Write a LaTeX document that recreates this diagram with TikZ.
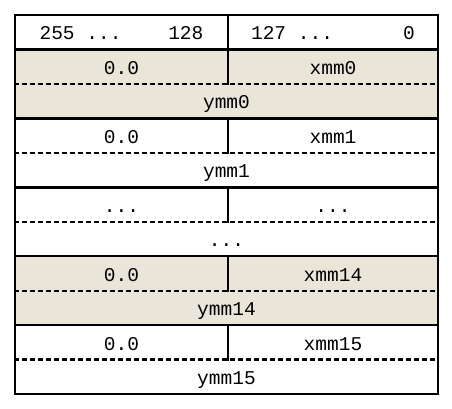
\documentclass[tikz,border=0pt]{standalone}
\usepackage{fontspec}
\setmonofont{Liberation Mono}
\definecolor{regfill}{RGB}{233,229,217}
\newcommand\regdots{...}
\begin{document}
\begin{tikzpicture}
  [x=1pt,y=-1pt,every node/.style={inner sep=0pt,anchor=base,font=\ttfamily\fontsize{19.5}{22}\selectfont}]
  \tikzstyle{rule} = [line width=2.5pt,line cap=rect]
  \tikzstyle{half} = [line width=2.2pt,dash pattern=on 5pt off 3pt]
  \useasboundingbox (0,0) rectangle (452,409);

  % shaded registers
  \foreach \row in {1,7}
     \fill[regfill] (15,15+\row*34.45) rectangle (438,15+\row*34.45+68.9);

  % bit numbers
  \node (hi) at (121.5,39.5) {255~...~~~~128};
  \node (lo) at (333,39.5) {127~...~~~~~~0};
  \draw[rule] (228,15) -- (228,49.5);

\foreach \row /\lhs /\rhs /\ymm in {1/0.0/xmm0/ymm0,3/0.0/xmm1/ymm1,5/\regdots/\regdots/\regdots,7/0.0/xmm14/ymm14,9/0.0/xmm15/ymm15}
{
   \node (l\row) at (121.5,15+\row*34.45+25) {\lhs};
   \node (r\row) at (333,15+\row*34.45+25) {\rhs};
   \node (y\row) at (226.5,15+\row*34.45+59.5) {\ymm};
   \draw[half] (14,15+\row*34.45+34.45) -- (439,15+\row*34.45+34.45);
   \draw[rule] (228,15+\row*34.45) -- (228,15+\row*34.45+34.45);
}
\foreach \row in {0,1,3,5,7,9,11}
   \draw[rule] (15,15+\row*34.45) -- (438,15+\row*34.45);
\draw[rule] (15,15) -- (15,394);
\draw[rule] (438,15) -- (438,394);

\end{tikzpicture}
\end{document}
